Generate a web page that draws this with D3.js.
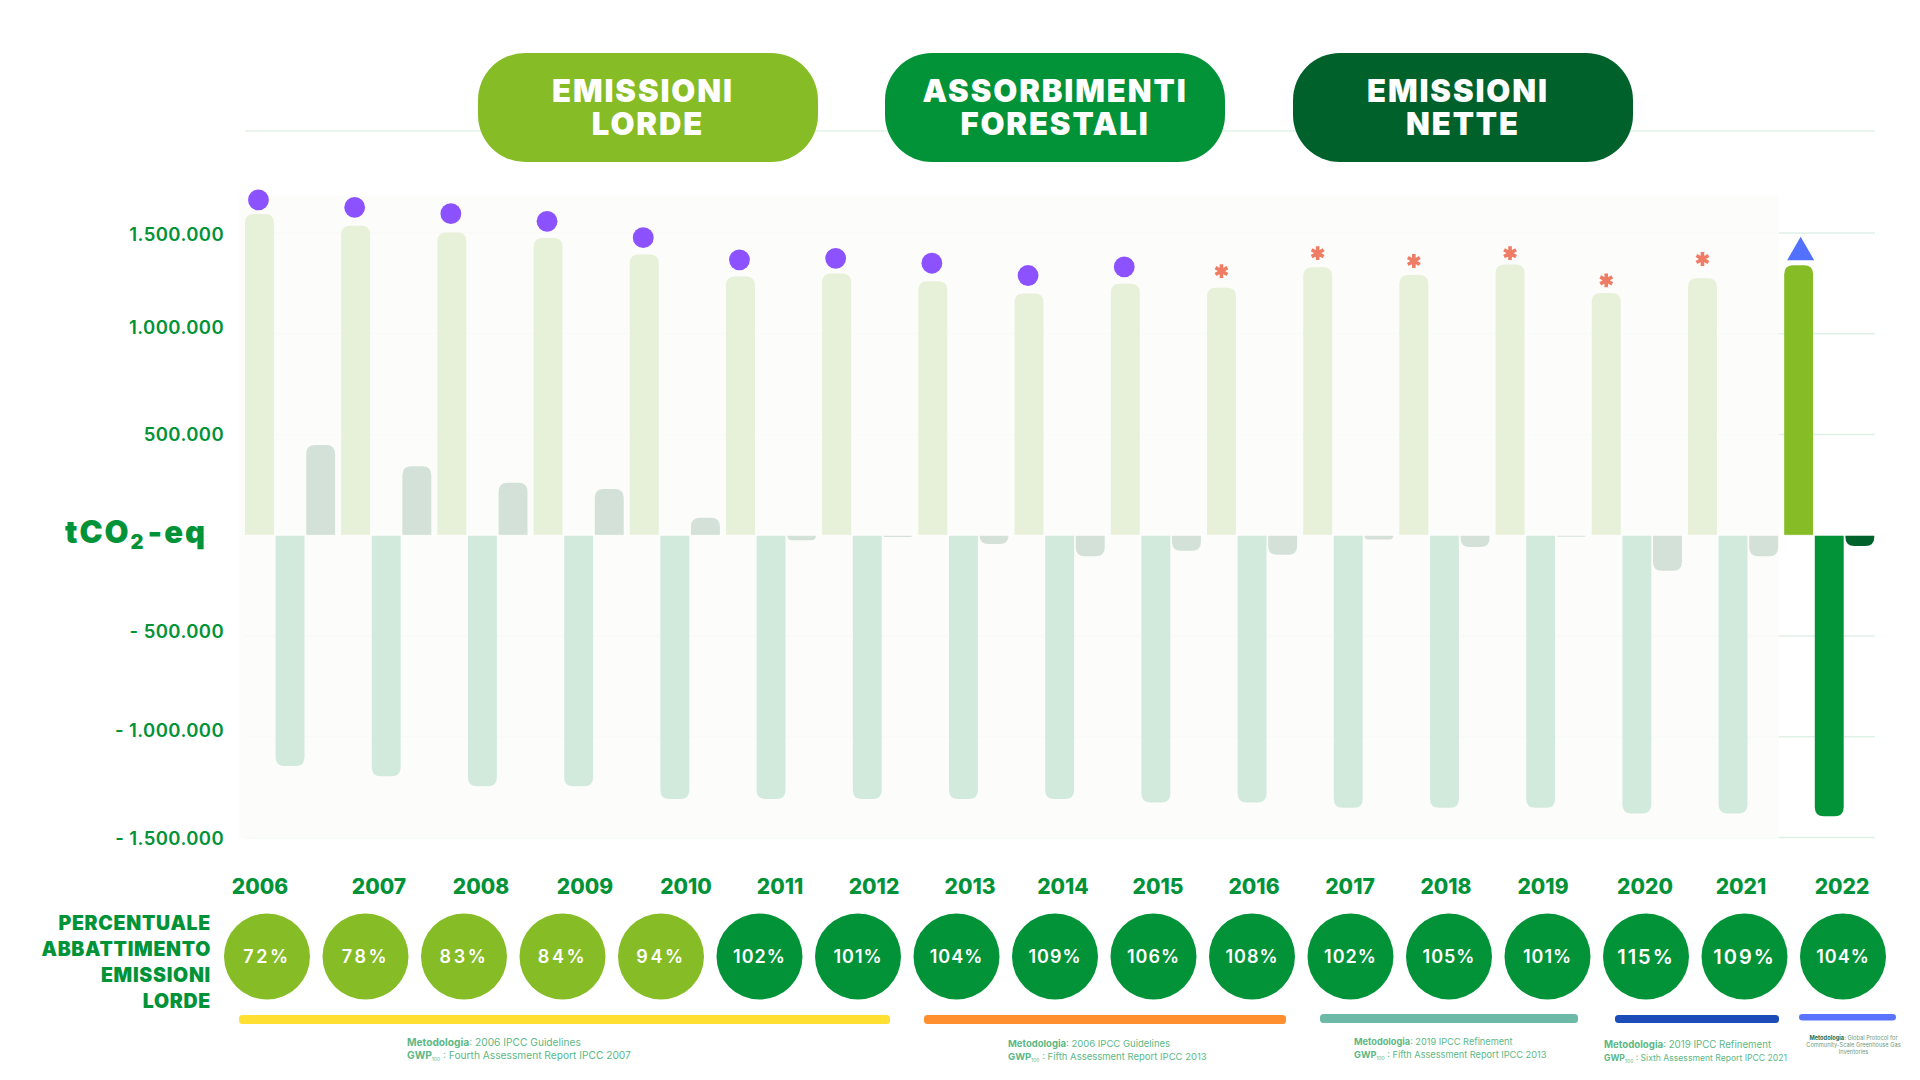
<!DOCTYPE html>
<html lang="en">

<head>
    <meta charset="utf-8">
    <title>Emissioni e assorbimenti</title>
    <script src="https://d3js.org/d3.v7.min.js" charset="utf-8"></script>
    <style type="text/css">
        html, body { margin: 0; padding: 0; background: #fff; }
        svg { display: block; }
        text { font-family: Inter, sans-serif; }
    </style>
</head>

<body>

<div id="chart"></div>

<script type="text/javascript">

    // data
    var years = [2006, 2007, 2008, 2009, 2010, 2011, 2012, 2013, 2014, 2015, 2016, 2017, 2018, 2019, 2020, 2021, 2022];
    var grossEmissions = [1594000, 1536000, 1502000, 1475000, 1393000, 1284000, 1299000, 1260000, 1200000, 1248000, 1228000, 1330000, 1291000, 1344000, 1202000, 1275000, 1340000];
    var forestAbsorption = [-1145000, -1196000, -1245000, -1245000, -1309000, -1309000, -1309000, -1309000, -1309000, -1326000, -1326000, -1352000, -1352000, -1352000, -1381000, -1381000, -1394000];
    var netEmissions = [448000, 343000, 261000, 230000, 87000, -25000, -8000, -43000, -104000, -77000, -97000, -21000, -58000, -7000, -176000, -104000, -53000];
    var markerLevels = [1664000, 1627000, 1596000, 1558000, 1477000, 1367000, 1374000, 1350000, 1289000, 1332000, 1311000, 1400000, 1361000, 1400000, 1265000, 1371000, 1404000];
    var markerKinds = ['circle', 'circle', 'circle', 'circle', 'circle', 'circle', 'circle', 'circle', 'circle', 'circle', 'asterisk', 'asterisk', 'asterisk', 'asterisk', 'asterisk', 'asterisk', 'triangle'];
    var abatement = [72, 78, 83, 84, 94, 102, 101, 104, 109, 106, 108, 102, 105, 101, 115, 109, 104];
    var yTicks = [1500000, 1000000, 500000, -500000, -1000000, -1500000];
    var seriesKeys = ['gross', 'forest', 'net'];
    var seriesLabels = [['EMISSIONI', 'LORDE'], ['ASSORBIMENTI', 'FORESTALI'], ['EMISSIONI', 'NETTE']];
    var sideLabel = ['PERCENTUALE', 'ABBATTIMENTO', 'EMISSIONI', 'LORDE'];
    var methodLines = [
        ['2006 IPCC Guidelines', 'Fourth Assessment Report IPCC 2007'],
        ['2006 IPCC Guidelines', 'Fifth Assessment Report IPCC 2013'],
        ['2019 IPCC Refinement', 'Fifth Assessment Report IPCC 2013'],
        ['2019 IPCC Refinement', 'Sixth Assessment Report IPCC 2021']
    ];
    var lastMethod = ['Global Protocol for', 'Community-Scale Greenhouse Gas', 'Inventories'];

    // layout and colours
    var seriesColors = { gross: '#86bc25', forest: '#029339', net: '#00622a' };
    var seriesFaded = { gross: '#e7f0d8', forest: '#d2eadb', net: '#d3e1d8' };
    var tickNudge = [1, -7, -1, -5, -7, 0];
    var yearLabelX = [260, 379, 481, 585, 686, 780, 874, 970, 1063, 1158, 1254, 1350, 1446, 1543, 1645, 1741, 1842];
    var pillBoxes = [[478, 818], [885, 1225], [1293, 1633]];
    var methodBars = [
        { x0: 239, x1: 890, y: 1015, h: 9, color: '#ffe032' },
        { x0: 924, x1: 1286, y: 1015, h: 9, color: '#ff8f2f' },
        { x0: 1320, x1: 1578, y: 1014, h: 9, color: '#6cb9a8' },
        { x0: 1615, x1: 1779, y: 1015, h: 8, color: '#1c4cb8' },
        { x0: 1799, x1: 1896, y: 1014, h: 6.5, color: '#5b74ff' }
    ];
    var methodText = [
        { x: 407, y: 1046, s1: 10.2, s2: 10.2 },
        { x: 1008, y: 1047, s1: 9.5, s2: 9.5 },
        { x: 1354, y: 1045, s1: 9.2, s2: 9.2 },
        { x: 1604, y: 1048, s1: 9.7, s2: 8.6 }
    ];

    var width = 1920, height = 1080;
    var green = '#029339';

    var svg = d3.select('#chart').append('svg')
            .attr('width', width)
            .attr('height', height);

    var x = d3.scaleBand().domain(years).range([245, 245 + 96.2 * years.length]);
    var xSeries = d3.scaleBand().domain(seriesKeys).range([0, 90.1]).paddingInner(0.055);
    var y = d3.scaleLinear().domain([-1500000, 1500000]).range([837.6, 233]);
    var xBubble = d3.scalePoint().domain(years).range([267, 1843]);

    // gridlines sit under a nearly opaque plot background
    svg.append('line')
            .attr('x1', 245).attr('x2', 1875)
            .attr('y1', 131).attr('y2', 131)
            .style('stroke', '#e3f2e9').style('stroke-width', 1.5);

    svg.append('g').selectAll('line')
            .data(yTicks)
            .join('line')
            .attr('x1', 245).attr('x2', 1875)
            .attr('y1', function (d) { return y(d); })
            .attr('y2', function (d) { return y(d); })
            .style('stroke', '#dff1e7').style('stroke-width', 1.5);

    svg.append('rect')
            .attr('x', 239).attr('y', 196)
            .attr('width', 1540).attr('height', 642)
            .style('fill', '#fcfcfa').style('opacity', 0.9);

    // bars have only their far end rounded
    function barPath(left, w, value) {
        var y0 = y(0), y1 = y(value);
        var r = Math.min(9, Math.abs(y1 - y0));
        var s = value < 0 ? -1 : 1;
        return 'M' + left + ',' + y0 +
                'V' + (y1 + s * r) +
                'Q' + left + ',' + y1 + ' ' + (left + r) + ',' + y1 +
                'H' + (left + w - r) +
                'Q' + (left + w) + ',' + y1 + ' ' + (left + w) + ',' + (y1 + s * r) +
                'V' + y0 + 'Z';
    }

    var seriesValues = { gross: grossEmissions, forest: forestAbsorption, net: netEmissions };

    seriesKeys.forEach(function (key) {
        svg.append('g').selectAll('path')
                .data(years)
                .join('path')
                .attr('d', function (d, i) {
                    return barPath(x(d) + xSeries(key), xSeries.bandwidth(), seriesValues[key][i]);
                })
                .style('fill', function (d) { return d === 2022 ? seriesColors[key] : seriesFaded[key]; });
    });

    svg.append('line')
            .attr('x1', 239).attr('x2', 1875)
            .attr('y1', y(0)).attr('y2', y(0))
            .style('stroke', '#ffffff').style('stroke-width', 0.8);

    // markers above the gross bars
    var markerStyle = {
        circle: { type: d3.symbolCircle, size: 340, fill: '#8c52ff', dx: -1 },
        asterisk: { type: d3.symbolAsterisk, size: 135, stroke: '#ef7d66', dx: 0 },
        triangle: { type: d3.symbolTriangle, size: 316, fill: '#5271ff', dx: 2 }
    };

    svg.append('g').selectAll('path')
            .data(years)
            .join('path')
            .attr('transform', function (d, i) {
                var m = markerStyle[markerKinds[i]];
                return 'translate(' + (x(d) + xSeries('gross') + xSeries.bandwidth() / 2 + m.dx) + ',' + y(markerLevels[i]) + ')';
            })
            .attr('d', function (d, i) {
                var m = markerStyle[markerKinds[i]];
                return d3.symbol(m.type, m.size)();
            })
            .style('fill', function (d, i) { return markerStyle[markerKinds[i]].fill || 'none'; })
            .style('stroke', function (d, i) { return markerStyle[markerKinds[i]].stroke || 'none'; })
            .style('stroke-width', 3.6);

    // y axis
    var fmt = d3.formatLocale({ decimal: ',', thousands: '.', grouping: [3], currency: ['', ''] }).format(',');
    var yAxis = d3.axisLeft(y)
            .tickValues(yTicks)
            .tickSize(0)
            .tickPadding(0)
            .tickFormat(function (d) { return (d < 0 ? '- ' : '') + fmt(Math.abs(d)); });

    var axisG = svg.append('g')
            .attr('transform', 'translate(224,0)')
            .call(yAxis);
    axisG.select('.domain').remove();
    axisG.selectAll('text')
            .attr('dy', function (d, i) { return tickNudge[i] + 6.5; })
            .style('font-family', 'Inter, sans-serif')
            .style('font-size', '18.5px')
            .style('font-weight', 600)
            .style('letter-spacing', '0.4px')
            .style('fill', green);

    var unit = svg.append('text')
            .attr('x', 65).attr('y', 543)
            .style('font-size', '31px')
            .style('font-weight', 900)
            .style('letter-spacing', '2px')
            .style('fill', green);
    unit.append('tspan').text('tCO');
    unit.append('tspan').attr('dy', 6).style('font-size', '20px').text('2');
    unit.append('tspan').attr('dy', -6).attr('dx', 2).text('-eq');

    // legend pills
    var pills = svg.append('g').selectAll('g')
            .data(seriesKeys)
            .join('g');

    pills.append('rect')
            .attr('x', function (d, i) { return pillBoxes[i][0]; })
            .attr('y', 53)
            .attr('width', function (d, i) { return pillBoxes[i][1] - pillBoxes[i][0]; })
            .attr('height', 109)
            .attr('rx', 47)
            .style('fill', function (d) { return seriesColors[d]; });

    pills.each(function (d, i) {
        var cx = (pillBoxes[i][0] + pillBoxes[i][1]) / 2;
        var label = d3.select(this).append('text')
                .attr('y', 102)
                .attr('text-anchor', 'middle')
                .style('font-size', '31px')
                .style('font-weight', 900)
                .style('letter-spacing', '1.9px')
                .style('fill', '#fff');
        label.selectAll('tspan')
                .data(seriesLabels[i])
                .join('tspan')
                .attr('x', function (t) { return t === 'EMISSIONI' ? cx - 5 : cx; })
                .attr('dy', function (t, j) { return j ? 32.5 : 0; })
                .text(function (t) { return t; });
    });

    // year labels
    svg.append('g').selectAll('text')
            .data(years)
            .join('text')
            .attr('x', function (d, i) { return yearLabelX[i]; })
            .attr('y', 893.5)
            .attr('text-anchor', 'middle')
            .style('font-size', '21px')
            .style('font-weight', 800)
            .style('fill', green)
            .text(function (d) { return d; });

    // abatement row
    svg.append('g').selectAll('text')
            .data(sideLabel)
            .join('text')
            .attr('x', 211)
            .attr('y', function (d, i) { return 930 + i * 26; })
            .attr('text-anchor', 'end')
            .style('font-size', '19.5px')
            .style('font-weight', 900)
            .style('letter-spacing', '0.7px')
            .style('fill', green)
            .text(function (d) { return d; });

    svg.append('g').selectAll('circle')
            .data(years)
            .join('circle')
            .attr('cx', function (d) { return xBubble(d); })
            .attr('cy', 956.5)
            .attr('r', 43)
            .style('fill', function (d, i) { return abatement[i] < 100 ? seriesColors.gross : seriesColors.forest; });

    // the 2020 and 2021 labels are set larger in the original
    svg.append('g').selectAll('text')
            .data(years)
            .join('text')
            .attr('x', function (d) { return xBubble(d); })
            .attr('y', function (d) { return d === 2020 || d === 2021 ? 963.5 : 962.5; })
            .attr('text-anchor', 'middle')
            .style('font-size', function (d) { return d === 2020 || d === 2021 ? '20px' : '18px'; })
            .style('font-weight', 600)
            .style('letter-spacing', function (d, i) { return d === 2020 || d === 2021 ? '2px' : abatement[i] < 100 ? '2.6px' : '1px'; })
            .style('fill', '#fff')
            .text(function (d, i) { return abatement[i] + '%'; });

    // methodology bars and notes
    svg.append('g').selectAll('rect')
            .data(methodBars)
            .join('rect')
            .attr('x', function (d) { return d.x0; })
            .attr('y', function (d) { return d.y; })
            .attr('width', function (d) { return d.x1 - d.x0; })
            .attr('height', function (d) { return d.h; })
            .attr('rx', 3.5)
            .style('fill', function (d) { return d.color; });

    methodLines.forEach(function (lines, i) {
        var g = svg.append('g').style('fill', '#5cb885');
        var first = g.append('text')
                .attr('x', methodText[i].x).attr('y', methodText[i].y)
                .style('font-size', methodText[i].s1 + 'px');
        first.append('tspan').style('font-weight', 700).text('Metodologia');
        first.append('tspan').text(': ' + lines[0]);
        var second = g.append('text')
                .attr('x', methodText[i].x).attr('y', methodText[i].y + 13)
                .style('font-size', methodText[i].s2 + 'px');
        second.append('tspan').style('font-weight', 700).text('GWP');
        second.append('tspan').attr('dy', 2).style('font-size', '5px').text('100');
        second.append('tspan').attr('dy', -2).text(' : ' + lines[1]);
    });

    var lastNote = svg.append('g').style('font-size', '5.7px').style('fill', '#6d9a82').attr('text-anchor', 'middle');
    lastNote.selectAll('text')
            .data(lastMethod)
            .join('text')
            .attr('x', 1853.5)
            .attr('y', function (d, i) { return 1040 + i * 7; })
            .each(function (d, i) {
                var t = d3.select(this);
                if (i === 0) {
                    t.append('tspan').style('font-weight', 700).style('fill', '#2c6e4b').text('Metodologia');
                    t.append('tspan').text(': ' + d);
                } else {
                    t.text(d);
                }
            });

</script>
</body>

</html>
